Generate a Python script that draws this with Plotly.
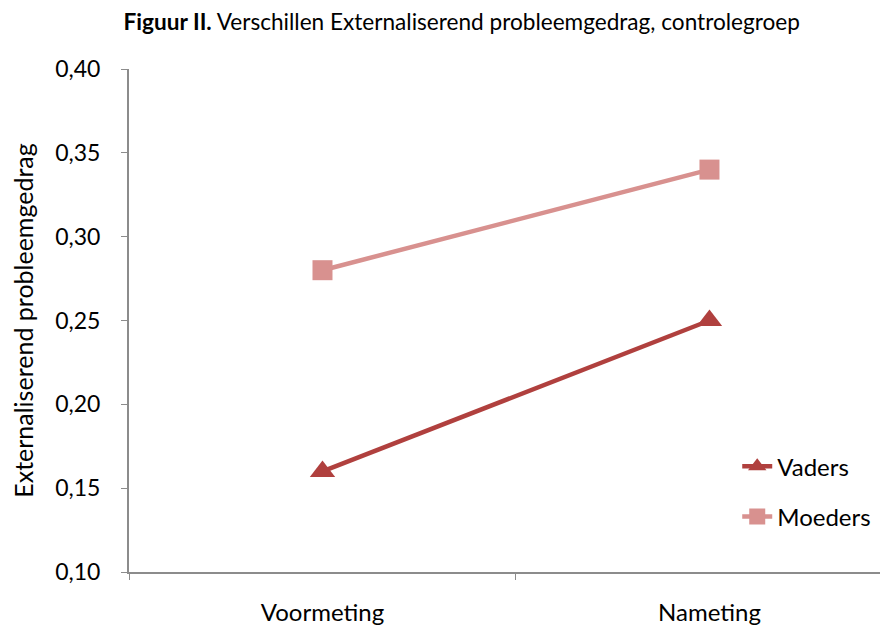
import plotly.graph_objects as go

categories = ["Voormeting", "Nameting"]
vaders = [0.16, 0.25]
moeders = [0.28, 0.34]
y_ticks = [0.10, 0.15, 0.20, 0.25, 0.30, 0.35, 0.40]
y_tick_labels = ["0,10", "0,15", "0,20", "0,25", "0,30", "0,35", "0,40"]

FONT = "Lato, 'Open Sans', sans-serif"

fig = go.Figure()
fig.add_trace(go.Scatter(
    x=categories, y=vaders, name="Vaders", mode="lines+markers",
    line=dict(color="#B0403E", width=4.5),
    marker=dict(symbol="triangle-up", size=22, color="#B0403E"),
    legendgroup="a",
))
fig.add_trace(go.Scatter(
    x=categories, y=moeders, name="Moeders", mode="lines+markers",
    line=dict(color="#D8918F", width=4.5),
    marker=dict(symbol="square", size=20, color="#D8918F"),
    legendgroup="b",
))

fig.update_layout(
    width=888, height=628,
    margin=dict(l=121, r=0, t=61, b=64),
    paper_bgcolor="white", plot_bgcolor="white",
    font=dict(family=FONT, size=24, color="#000000"),
    title=dict(
        text="<b>Figuur II.</b> Verschillen Externaliserend probleemgedrag, controlegroep",
        x=0.511, xanchor="center", y=0.978, yanchor="middle",
        font=dict(size=22.6, family=FONT),
    ),
    showlegend=True,
    legend=dict(
        x=0.793, xanchor="left", y=0.254, yanchor="top",
        bgcolor="rgba(0,0,0,0)", font=dict(size=24),
        tracegroupgap=16,
    ),
    xaxis=dict(
        type="category", range=[-0.5, 1.482], automargin=False,
        showline=True, linecolor="#8C8C8C", linewidth=2,
        ticks="outside", tickson="boundaries", ticklen=6, tickcolor="#8C8C8C", tickwidth=1,
        showgrid=False, zeroline=False,
        tickfont=dict(size=24), ticklabelstandoff=18,
    ),
    yaxis=dict(
        range=[0.10, 0.40], tickvals=y_ticks, ticktext=y_tick_labels, automargin=False,
        showline=True, linecolor="#8C8C8C", linewidth=2,
        ticks="outside", ticklen=6, tickcolor="#8C8C8C", tickwidth=1,
        showgrid=False, zeroline=False,
        tickfont=dict(size=23), ticklabelstandoff=16,
        title=dict(text="Externaliserend probleemgedrag", font=dict(size=25), standoff=24),
    ),
)

fig.write_html("out.html")
